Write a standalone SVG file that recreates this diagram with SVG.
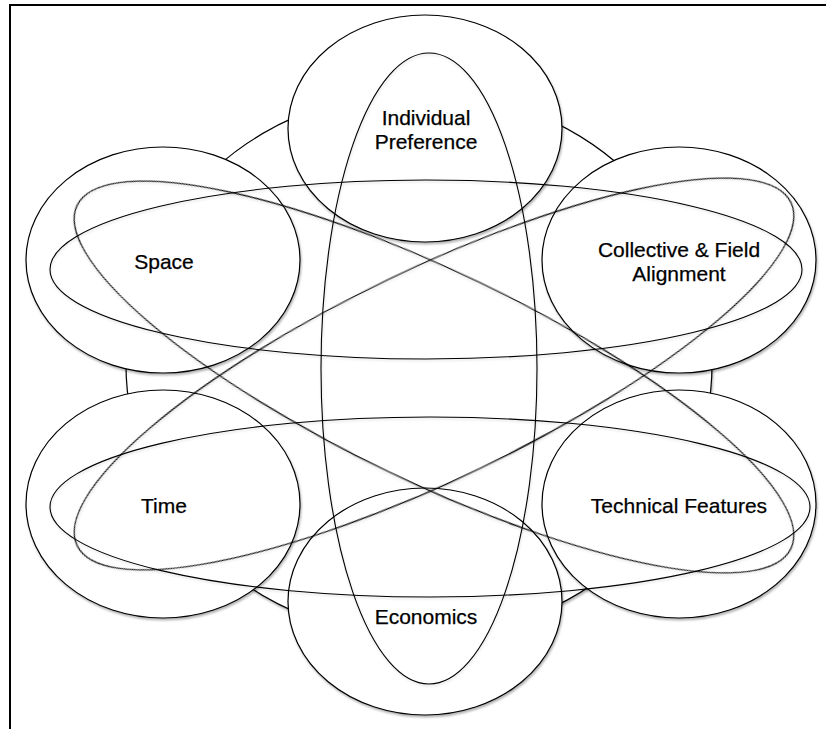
<svg xmlns="http://www.w3.org/2000/svg" width="826" height="729" viewBox="0 0 826 729">
  <defs>
    <filter id="sh" x="-10%" y="-10%" width="120%" height="120%">
      <feDropShadow dx="1" dy="2" stdDeviation="1.2" flood-color="#000" flood-opacity="0.3"/>
    </filter>
    <filter id="shl" x="-10%" y="-10%" width="120%" height="120%">
      <feDropShadow dx="0.5" dy="1.5" stdDeviation="1" flood-color="#000" flood-opacity="0.15"/>
    </filter>
    <style>
      .frame { fill: none; stroke: #000; stroke-width: 2; }
      .node { fill: #fff; stroke: #000; stroke-width: 1.2; filter: url(#sh); }
      .loop { fill: none; stroke: #000; stroke-width: 1.1; filter: url(#shl); }
      .lbl { font-family: "Liberation Sans", Arial, sans-serif; font-size: 21px; fill: #000; stroke: #000; stroke-width: 0.25; text-anchor: middle; }
    </style>
  </defs>
  <rect width="826" height="729" fill="#fff"/>
  <path class="frame" d="M10,729 V5 H826"/>

  <g id="whole">
    <ellipse class="node" cx="419" cy="364.5" rx="293" ry="273"/>
  </g>

  <g id="individual-preference">
    <ellipse class="node" cx="425" cy="128.5" rx="137" ry="113.5"/>
    <text class="lbl" x="426" y="125">Individual</text>
    <text class="lbl" x="426" y="149">Preference</text>
  </g>
  <g id="space">
    <ellipse class="node" cx="163" cy="260" rx="137" ry="113"/>
    <text class="lbl" x="164" y="269">Space</text>
  </g>
  <g id="collective-field-alignment">
    <ellipse class="node" cx="679" cy="260" rx="137" ry="113"/>
    <text class="lbl" x="679" y="257">Collective &amp; Field</text>
    <text class="lbl" x="679" y="281">Alignment</text>
  </g>
  <g id="time">
    <ellipse class="node" cx="163" cy="504" rx="137" ry="114"/>
    <text class="lbl" x="164" y="513">Time</text>
  </g>
  <g id="technical-features">
    <ellipse class="node" cx="679" cy="504" rx="137" ry="114"/>
    <text class="lbl" x="679" y="513">Technical Features</text>
  </g>
  <g id="economics">
    <ellipse class="node" cx="425" cy="601.5" rx="137" ry="113.5"/>
    <text class="lbl" x="426" y="624">Economics</text>
  </g>

  <g id="connectors">
    <ellipse class="loop" cx="426" cy="269.5" rx="376" ry="89.5"/>
    <ellipse class="loop" cx="430" cy="507" rx="380" ry="90"/>
    <ellipse class="loop" cx="429" cy="368.5" rx="108" ry="315.5"/>
    <ellipse class="loop" cx="0" cy="0" rx="396" ry="105" transform="translate(434 377) rotate(25.67)"/>
    <ellipse class="loop" cx="0" cy="0" rx="396" ry="105" transform="translate(434 374) rotate(-25.67)"/>
  </g>
</svg>
